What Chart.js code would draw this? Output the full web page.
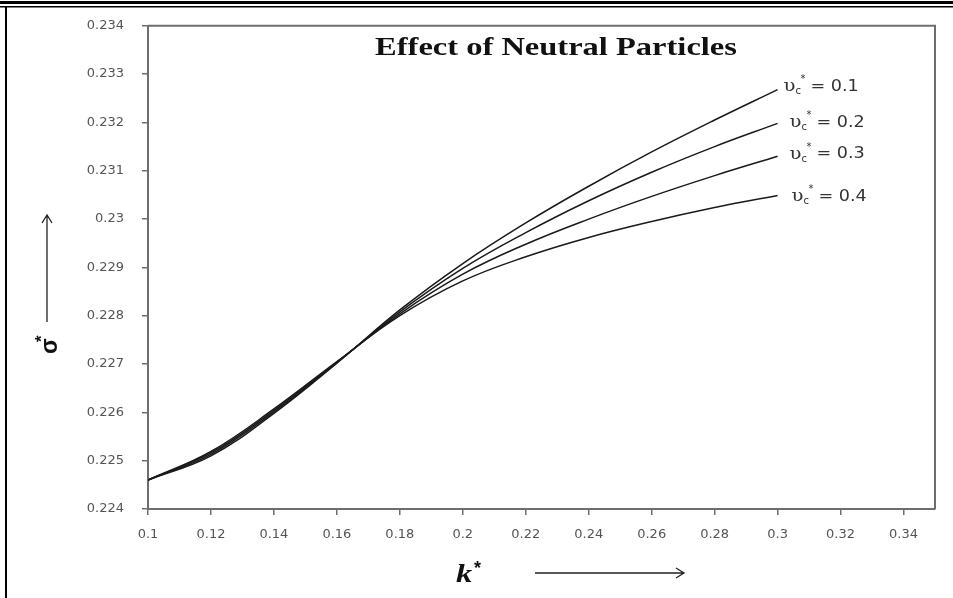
<!DOCTYPE html>
<html>
<head>
<meta charset="utf-8">
<script src="https://cdn.jsdelivr.net/npm/chart.js@4.4.1/dist/chart.umd.min.js"></script>
<style>
  html, body { margin: 0; padding: 0; background: #fff; }
  #wrap { width: 953px; height: 598px; position: relative; }
</style>
</head>
<body>
<div id="wrap"><canvas id="chart" width="953" height="598"></canvas></div>
<script>
// Data
const kValues = [0.10, 0.12, 0.14, 0.16, 0.18, 0.20, 0.22, 0.24, 0.26, 0.28, 0.30];
const sigmaNu01 = [0.22460, 0.22510, 0.22598, 0.22702, 0.22812, 0.22908, 0.22992, 0.23068, 0.23139, 0.23205, 0.23268];
const sigmaNu02 = [0.22460, 0.22513, 0.22601, 0.22703, 0.22808, 0.22898, 0.22972, 0.23038, 0.23097, 0.23150, 0.23198];
const sigmaNu03 = [0.22460, 0.22516, 0.22604, 0.22704, 0.22804, 0.22886, 0.22948, 0.23000, 0.23047, 0.23090, 0.23130];
const sigmaNu04 = [0.22460, 0.22519, 0.22607, 0.22705, 0.22800, 0.22872, 0.22922, 0.22962, 0.22995, 0.23024, 0.23049];
const seriesNames = ['0.1', '0.2', '0.3', '0.4'];
const xTicks = [0.1, 0.12, 0.14, 0.16, 0.18, 0.2, 0.22, 0.24, 0.26, 0.28, 0.3, 0.32, 0.34];
const yTicks = [0.224, 0.225, 0.226, 0.227, 0.228, 0.229, 0.23, 0.231, 0.232, 0.233, 0.234];

const allSeries = [sigmaNu01, sigmaNu02, sigmaNu03, sigmaNu04];
// small offsets for the curve labels (pixels from the line end)
const labelOffsets = [[6, -3], [12, -1], [12, -2], [14, 1]];

function toPoints(ys) {
    return kValues.map((k, i) => ({ x: k, y: ys[i] }));
}

// text drawn a bit wider than the font, like the stretched original
function wideText(ctx, text, x, y, sx) {
    ctx.save();
    ctx.translate(x, y);
    ctx.scale(sx, 1);
    ctx.fillText(text, 0, 0);
    const w = ctx.measureText(text).width * sx;
    ctx.restore();
    return w;
}

// frame, title, axis titles, curve labels
const decorations = {
    id: 'decorations',
    beforeDraw(chart) {
        const ctx = chart.ctx;
        ctx.save();
        ctx.fillStyle = '#fff';
        ctx.fillRect(0, 0, chart.width, chart.height);
        ctx.restore();
    },
    afterDraw(chart) {
        const ctx = chart.ctx;
        const area = chart.chartArea;
        const xs = chart.scales.x, ys = chart.scales.y;
        ctx.save();

        // outer frame of the figure
        ctx.fillStyle = '#000';
        ctx.fillRect(0, 1, chart.width, 3);
        ctx.fillRect(0, 6, chart.width, 1.5);
        ctx.fillRect(5, 6, 2, chart.height - 6);

        // plot box (top and right)
        ctx.strokeStyle = '#6e6e6e';
        ctx.lineWidth = 2;
        ctx.beginPath();
        ctx.moveTo(area.left, area.top);
        ctx.lineTo(area.right, area.top);
        ctx.lineTo(area.right, area.bottom);
        ctx.stroke();

        // title inside the plot
        ctx.fillStyle = '#111';
        ctx.font = 'bold 26px "Liberation Serif", "Times New Roman", serif';
        ctx.textAlign = 'center';
        ctx.textBaseline = 'middle';
        wideText(ctx, 'Effect of Neutral Particles', 556, 48, 1.25);

        // curve labels
        allSeries.forEach((s, i) => {
            const px = xs.getPixelForValue(kValues[kValues.length - 1]) + labelOffsets[i][0];
            const py = ys.getPixelForValue(s[s.length - 1]) + labelOffsets[i][1];
            ctx.textAlign = 'left';
            ctx.textBaseline = 'middle';
            ctx.fillStyle = '#333';
            ctx.font = '17px "DejaVu Serif", serif';
            const w = wideText(ctx, 'υ', px, py, 1.15);
            ctx.font = '10px "DejaVu Sans", sans-serif';
            ctx.fillText('c', px + w, py + 5);
            ctx.fillText('*', px + w + 5, py - 7);
            ctx.font = '16px "DejaVu Sans", sans-serif';
            wideText(ctx, '= ' + seriesNames[i], px + w + 15, py, 1.1);
        });

        // y axis title with arrow
        ctx.save();
        ctx.translate(57, 354);
        ctx.rotate(-Math.PI / 2);
        ctx.fillStyle = '#111';
        ctx.font = 'bold 23px "Liberation Sans", Arial, sans-serif';
        ctx.textAlign = 'left';
        ctx.textBaseline = 'alphabetic';
        ctx.fillText('σ', 0, 0);
        ctx.font = 'bold 17px "Liberation Sans", Arial, sans-serif';
        ctx.fillText('*', 12, -10);
        ctx.restore();

        ctx.strokeStyle = '#222';
        ctx.lineWidth = 1.3;
        ctx.beginPath();
        ctx.moveTo(47, 322);
        ctx.lineTo(47, 215);
        ctx.moveTo(42, 223);
        ctx.lineTo(47, 215);
        ctx.lineTo(52, 223);
        ctx.stroke();

        // x axis title with arrow
        ctx.fillStyle = '#111';
        ctx.font = 'bold italic 26px "Liberation Serif", "Times New Roman", serif';
        ctx.textAlign = 'left';
        ctx.textBaseline = 'alphabetic';
        wideText(ctx, 'k', 456, 582, 1.25);
        ctx.font = 'bold 18px "Liberation Sans", Arial, sans-serif';
        ctx.fillText('*', 474, 574);
        ctx.beginPath();
        ctx.moveTo(535, 573);
        ctx.lineTo(684, 573);
        ctx.moveTo(676, 568);
        ctx.lineTo(684, 573);
        ctx.lineTo(676, 578);
        ctx.stroke();

        ctx.restore();
    }
};

const tickFont = { family: '"DejaVu Sans", sans-serif', size: 13 };

const ctx = document.getElementById('chart').getContext('2d');
new Chart(ctx, {
    type: 'line',
    data: {
        datasets: allSeries.map((s, i) => ({
            label: 'υc* = ' + seriesNames[i],
            data: toPoints(s),
            borderColor: '#1a1a1a',
            borderWidth: 1.5,
            pointRadius: 0,
            tension: 0.4,
            fill: false
        }))
    },
    options: {
        responsive: false,
        animation: false,
        layout: { padding: { left: 0, top: 24, right: 18, bottom: 0 } },
        plugins: {
            legend: { display: false },
            tooltip: { enabled: false }
        },
        scales: {
            x: {
                type: 'linear',
                min: 0.1,
                max: 0.35,
                afterBuildTicks: (scale) => { scale.ticks = xTicks.map(v => ({ value: v })); },
                afterFit: (scale) => { scale.height = 89; },
                ticks: {
                    callback: (v) => String(v),
                    color: '#555',
                    font: tickFont,
                    padding: 12,
                    maxRotation: 0,
                    autoSkip: false
                },
                grid: { drawOnChartArea: false, tickLength: 6, color: '#6e6e6e', lineWidth: 1.5 },
                border: { display: true, color: '#6e6e6e', width: 2 }
            },
            y: {
                type: 'linear',
                min: 0.224,
                max: 0.234,
                afterBuildTicks: (scale) => { scale.ticks = yTicks.map(v => ({ value: v })); },
                afterFit: (scale) => { scale.width = 148; },
                ticks: {
                    callback: (v) => String(v),
                    color: '#555',
                    font: tickFont,
                    padding: 18,
                    autoSkip: false
                },
                grid: { drawOnChartArea: false, tickLength: 6, color: '#6e6e6e', lineWidth: 1.5 },
                border: { display: true, color: '#6e6e6e', width: 2 }
            }
        }
    },
    plugins: [decorations]
});
</script>
</body>
</html>
